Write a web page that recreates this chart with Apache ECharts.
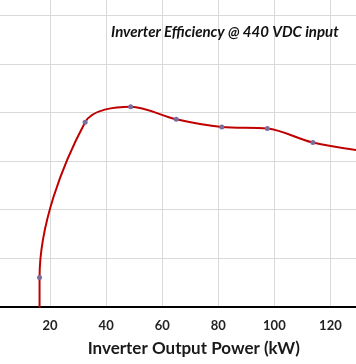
<!DOCTYPE html>
<html>
<head>
<meta charset="utf-8">
<script src="https://cdn.jsdelivr.net/npm/echarts@6/dist/echarts.min.js"></script>
<style>
html,body{margin:0;padding:0;background:#fff;}
#chart{width:356px;height:364px;}
</style>
</head>
<body>
<div id="chart"></div>
<script>
const chartTitle = 'Inverter Efficiency @ 440 VDC input';
const xAxisTitle = 'Inverter Output Power (kW)';
const powerKW = [16.25, 16.25, 32.5, 48.75, 65, 81.25, 97.5, 113.75, 130];
const efficiency = [90, 92.6, 95.8, 96.12, 95.86, 95.7, 95.67, 95.38, 95.22];
const xTickLabels = ['20', '40', '60', '80', '100', '120'];

const chart = echarts.init(document.getElementById('chart'), null, {renderer: 'canvas'});
const fontFam = 'Lato, "Open Sans", sans-serif';
chart.setOption({
  animation: false,
  backgroundColor: '#ffffff',
  title: {
    text: chartTitle,
    left: 111,
    top: 25,
    padding: 0,
    textStyle: {fontFamily: fontFam, fontSize: 15, fontWeight: 'bold', fontStyle: 'italic', color: '#111'}
  },
  grid: {left: -6, right: -30.5, top: -33, bottom: 57.5, containLabel: false, outerBoundsMode: 'none'},
  xAxis: {
    type: 'value',
    min: 0, max: 140, interval: 20,
    axisLine: {show: true, onZero: false, lineStyle: {color: '#000', width: 2}},
    axisTick: {show: false},
    splitLine: {show: true, lineStyle: {color: '#d9d9d9', width: 1}},
    axisLabel: {
      margin: 13,
      fontFamily: fontFam, fontSize: 13, fontWeight: 'bold', color: '#222',
      formatter: v => xTickLabels.includes(String(v)) ? String(v) : ''
    },
    name: xAxisTitle,
    nameLocation: 'middle',
    nameGap: 34,
    nameTextStyle: {fontFamily: fontFam, fontSize: 17, fontWeight: 'bold', color: '#1a1a1a', padding: [0, 0, 0, 7]}
  },
  yAxis: {
    type: 'value',
    min: 92, max: 99, interval: 1,
    axisLine: {show: false},
    axisTick: {show: false},
    axisLabel: {show: false},
    splitLine: {show: true, lineStyle: {color: '#d9d9d9', width: 1}}
  },
  series: [{
    type: 'line',
    data: powerKW.map((x, i) => [x, efficiency[i]]),
    smooth: 0.33,
    clip: true,
    symbol: 'circle',
    symbolSize: (v, p) => p.dataIndex === 0 ? 0 : 5,
    lineStyle: {color: '#c00000', width: 2},
    itemStyle: {color: '#7b6d9e', borderColor: '#7b6d9e', borderWidth: 0}
  }]
});
</script>
</body>
</html>
